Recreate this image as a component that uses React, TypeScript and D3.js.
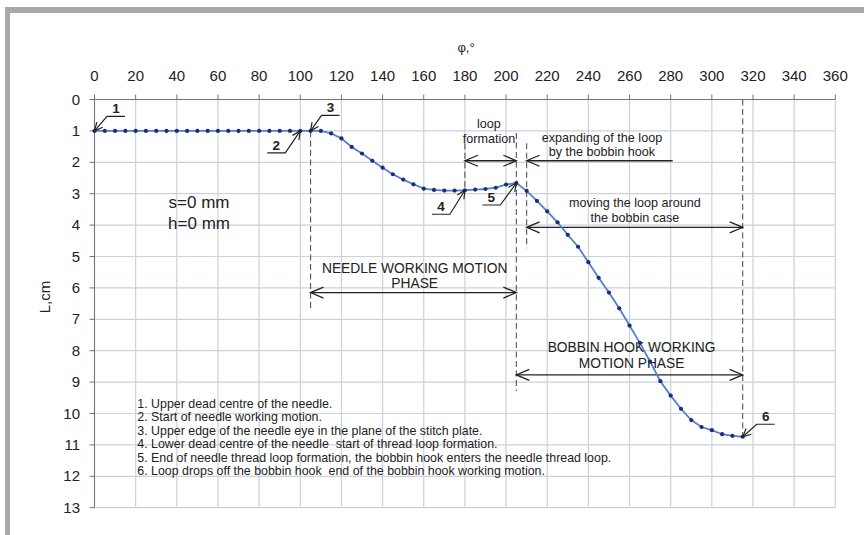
import React from 'react';
import * as d3 from 'd3';

// needle-thread loop length vs. main shaft angle
const angles = [
  0, 5, 10, 15, 20, 25, 30, 35, 40, 45, 50, 55, 60, 65, 70, 75, 80, 85, 90, 95,
  100, 105, 110, 115, 120, 125, 130, 135, 140, 145, 150, 155, 160, 165, 170, 175,
  180, 185, 190, 195, 200, 205, 210, 215, 220, 225, 230, 235, 240, 245, 250, 255,
  260, 265, 270, 275, 280, 285, 290, 295, 300, 305, 310, 315,
];
const lengths = [
  1, 1, 1, 1, 1, 1, 1, 1, 1, 1, 1, 1, 1, 1, 1, 1, 1, 1, 1, 1,
  1, 1, 1, 1.08, 1.24, 1.51, 1.72, 1.95, 2.17, 2.38, 2.55, 2.7, 2.84, 2.88, 2.9, 2.9,
  2.89, 2.87, 2.85, 2.81, 2.71, 2.66, 2.91, 3.23, 3.56, 3.91, 4.31, 4.69, 5.18, 5.68, 6.15, 6.65,
  7.2, 7.75, 8.35, 8.97, 9.43, 9.85, 10.21, 10.43, 10.53, 10.66, 10.71, 10.74,
];
const xTicks = [0, 20, 40, 60, 80, 100, 120, 140, 160, 180, 200, 220, 240, 260, 280, 300, 320, 340, 360];
const yTicks = [0, 1, 2, 3, 4, 5, 6, 7, 8, 9, 10, 11, 12, 13];

const legendLines = [
  '1. Upper dead centre of the needle.',
  '2. Start of needle working motion.',
  '3. Upper edge of the needle eye in the plane of the stitch plate.',
  '4. Lower dead centre of the needle  start of thread loop formation.',
  '5. End of needle thread loop formation, the bobbin hook enters the needle thread loop.',
  '6. Loop drops off the bobbin hook  end of the bobbin hook working motion.',
];

// marked points: label, angle, length, elbow offset (px), underline direction
const callouts = [
  { n: '1', a: 0, l: 1, dx: 12.5, dy: -14.5, dir: 1 },
  { n: '2', a: 100, l: 1, dx: -15, dy: 22, dir: -1 },
  { n: '3', a: 105, l: 1, dx: 11, dy: -15.5, dir: 1 },
  { n: '4', a: 180, l: 2.89, dx: -15, dy: 24, dir: -1 },
  { n: '5', a: 205, l: 2.66, dx: -16, dy: 22, dir: -1 },
  { n: '6', a: 315, l: 10.74, dx: 14, dy: -12.5, dir: 1 },
];

const dashed = [
  { a: 105, from: 1, to: 6.7 },
  { a: 180, from: 1.39, to: 2.89 },
  { a: 205, from: 1.07, to: 9.28 },
  { a: 210, from: 1.39, to: 4.74 },
  { a: 315, from: 0, to: 10.74 },
];

const spans = [
  { a1: 180, a2: 205, l: 1.95, left: true, right: true },
  { a1: 210, a2: 281, l: 1.95, left: true, right: false },
  { a1: 210, a2: 315, l: 4.07, left: true, right: true },
  { a1: 105, a2: 205, l: 6.15, left: true, right: true },
  { a1: 205, a2: 315, l: 8.77, left: true, right: true },
];

const notes = [
  { t: 'loop', a: 191.7, l: 0.77, size: 12.6 },
  { t: 'formation', a: 191.7, l: 1.24, size: 12.6 },
  { t: 'expanding of the loop', a: 246.6, l: 1.21, size: 12.6 },
  { t: 'by the bobbin hook', a: 246.6, l: 1.67, size: 12.6 },
  { t: 'moving the loop around', a: 262.6, l: 3.29, size: 12.6 },
  { t: 'the bobbin case', a: 262.6, l: 3.75, size: 12.6 },
  { t: 'NEEDLE WORKING MOTION', a: 155.6, l: 5.36, size: 13.8 },
  { t: 'PHASE', a: 155.6, l: 5.86, size: 13.8 },
  { t: 'BOBBIN HOOK WORKING', a: 261, l: 7.89, size: 13.8 },
  { t: 'MOTION PHASE', a: 261, l: 8.4, size: 13.8 },
  { t: 's=0 mm', a: 50.8, l: 3.26, size: 17 },
  { t: 'h=0 mm', a: 50.8, l: 3.93, size: 17 },
];

const W = 864;
const H = 535;
const font = '"Liberation Sans", Arial, sans-serif';

const x = d3.scaleLinear().domain([0, 360]).range([94.5, 835.3]);
const y = d3.scaleLinear().domain([0, 13]).range([99.5, 507.7]);

function Head({ px, py, dir, len = 13, spread = 5.5 }: { px: number; py: number; dir: number; len?: number; spread?: number }) {
  // open V arrowhead pointing along dir (+1 right, -1 left)
  return (
    <path
      d={`M${px - dir * len},${py - spread}L${px},${py}L${px - dir * len},${py + spread}`}
      fill="none"
      stroke="#222"
      strokeWidth={1.3}
    />
  );
}

export default function App() {
  const line = d3
    .line<number>()
    .x((_, i) => x(angles[i]))
    .y((d) => y(d));

  return (
    <svg
      width={W}
      height={H}
      style={{ position: 'absolute', left: 0, top: 0, background: '#fff' }}
      fontFamily={font}
    >
      <rect x={5} y={7} width={W - 5} height={6} fill="#a9a9ac" />
      <rect x={5} y={7} width={5} height={H - 7} fill="#a9a9ac" />

      {/* grid */}
      {xTicks.map((t) => (
        <line key={'gx' + t} x1={x(t)} x2={x(t)} y1={y(0)} y2={y(13)} stroke="#c9d2de" strokeWidth={1.2} />
      ))}
      {yTicks.map((t) => (
        <line key={'gy' + t} x1={x(0)} x2={x(360)} y1={y(t)} y2={y(t)} stroke="#c9d2de" strokeWidth={1.2} />
      ))}

      {/* axes */}
      <line x1={x(0)} x2={x(360)} y1={y(0)} y2={y(0)} stroke="#6a7385" strokeWidth={1} />
      <line x1={x(0)} x2={x(0)} y1={y(0)} y2={y(13)} stroke="#6a7385" strokeWidth={1} />
      {xTicks.map((t) => (
        <g key={'tx' + t}>
          <line x1={x(t)} x2={x(t)} y1={y(0) - 5} y2={y(0)} stroke="#6a7385" />
          <text x={x(t)} y={80.5} fontSize={15} textAnchor="middle" fill="#222">
            {t}
          </text>
        </g>
      ))}
      {yTicks.map((t) => (
        <g key={'ty' + t}>
          <line x1={x(0) - 5} x2={x(0)} y1={y(t)} y2={y(t)} stroke="#6a7385" />
          <text x={80} y={y(t) + 5} fontSize={15} textAnchor="end" fill="#222">
            {t}
          </text>
        </g>
      ))}
      <text x={466} y={52} fontSize={13} textAnchor="middle" fill="#222">
        φ,°
      </text>
      <text transform={`translate(50,297) rotate(-90)`} fontSize={15} textAnchor="middle" fill="#222">
        L,cm
      </text>

      {/* dashed markers */}
      {dashed.map((d, i) => (
        <line
          key={'d' + i}
          x1={x(d.a)}
          x2={x(d.a)}
          y1={y(d.from)}
          y2={y(d.to)}
          stroke="#4d5563"
          strokeWidth={1.1}
          strokeDasharray="6,3.5"
        />
      ))}

      {/* span arrows */}
      {spans.map((s, i) => (
        <g key={'s' + i}>
          <line x1={x(s.a1)} x2={x(s.a2)} y1={y(s.l)} y2={y(s.l)} stroke="#222" strokeWidth={1.3} />
          {s.left && <Head px={x(s.a1)} py={y(s.l)} dir={-1} />}
          {s.right && <Head px={x(s.a2)} py={y(s.l)} dir={1} />}
        </g>
      ))}

      {/* notes */}
      {notes.map((n, i) => (
        <text key={'n' + i} x={x(n.a)} y={y(n.l)} dy="0.35em" fontSize={n.size} textAnchor="middle" fill="#222">
          {n.t}
        </text>
      ))}

      {/* series */}
      <path d={line(lengths) || ''} fill="none" stroke="#4f83c6" strokeWidth={1.8} />
      {lengths.map((l, i) => (
        <circle key={'p' + i} cx={x(angles[i])} cy={y(l)} r={2.1} fill="#1f2a80" />
      ))}

      {/* callouts */}
      {callouts.map((c) => {
        const tx = x(c.a);
        const ty = y(c.l);
        const ex = tx + c.dx;
        const ey = ty + c.dy;
        const ux = ex + c.dir * 18;
        const ang = Math.atan2(ey - ty, ex - tx);
        const hl = 9;
        const hs = 0.45;
        const h1 = [tx + hl * Math.cos(ang - hs), ty + hl * Math.sin(ang - hs)];
        const h2 = [tx + hl * Math.cos(ang + hs), ty + hl * Math.sin(ang + hs)];
        return (
          <g key={'c' + c.n}>
            <path d={`M${ux},${ey}L${ex},${ey}L${tx},${ty}`} fill="none" stroke="#222" strokeWidth={1.2} />
            <path d={`M${h1[0]},${h1[1]}L${tx},${ty}L${h2[0]},${h2[1]}`} fill="none" stroke="#222" strokeWidth={1.2} />
            <text x={(ex + ux) / 2} y={ey - 3} fontSize={13.5} fontWeight="bold" textAnchor="middle" fill="#222">
              {c.n}
            </text>
          </g>
        );
      })}

      {/* legend */}
      {legendLines.map((t, i) => (
        <text
          key={'l' + i}
          x={137.3}
          y={403.3 + i * 13.5}
          dy="0.35em"
          fontSize={12.4}
          fill="#222"
          style={{ whiteSpace: 'pre' }}
        >
          {t}
        </text>
      ))}
    </svg>
  );
}
